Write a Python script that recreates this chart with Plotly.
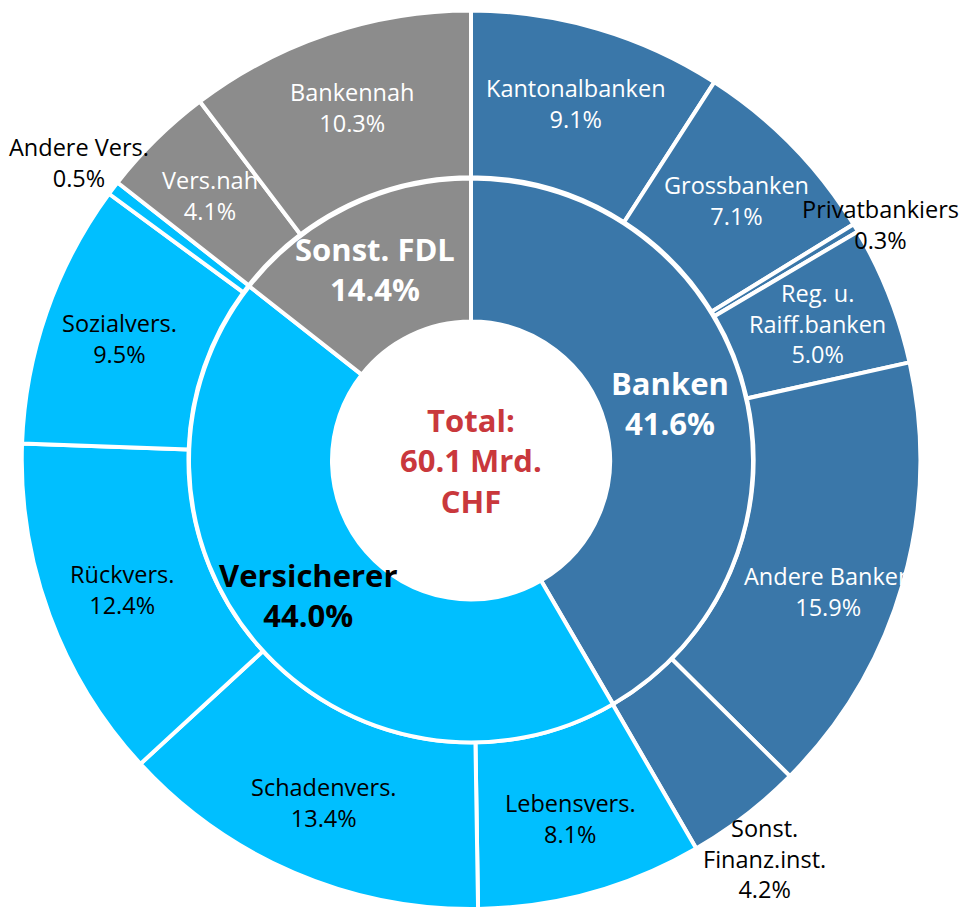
import math
import plotly.graph_objects as go

# ---------------- data ----------------
inner_labels = ["Banken", "Versicherer", "Sonst. FDL"]
inner_values = [41.6, 44.0, 14.4]

outer_labels = ["Kantonalbanken", "Grossbanken", "Privatbankiers", "Reg. u. Raiff.banken",
                "Andere Banken", "Sonst. Finanz.inst.",
                "Lebensvers.", "Schadenvers.", "Rückvers.", "Sozialvers.", "Andere Vers.",
                "Vers.nah", "Bankennah"]
outer_values = [9.1, 7.1, 0.3, 5.0, 15.9, 4.2,
                8.1, 13.4, 12.4, 9.5, 0.5,
                4.1, 10.3]
outer_parent = ["Banken"] * 6 + ["Versicherer"] * 5 + ["Sonst. FDL"] * 2

center_text = "Total:<br>60.1 Mrd.<br>CHF"

# ---------------- styling ----------------
W, H = 980, 909
CX, CY = 471.0, 460.5          # centre in pixels (from top-left)
R_OUT = 450.0
R_IN = 282.0
HOLE_IN_PX = 139.0
HOLE_OUT_PX = 283.0

colors = {"Banken": "#3A77A9", "Versicherer": "#00BFFF", "Sonst. FDL": "#8C8C8C"}
text_col = {"Banken": "white", "Versicherer": "black", "Sonst. FDL": "white"}
display = {"Reg. u. Raiff.banken": "Reg. u.<br>Raiff.banken",
           "Sonst. Finanz.inst.": "Sonst.<br>Finanz.inst."}
outside = {"Privatbankiers": 474, "Andere Vers.": 492, "Sonst. Finanz.inst.": 500}
label_nudge = {"Andere Banken": (0, 28), "Privatbankiers": (4, 9),
               "Sonst. Finanz.inst.": (-12, 2)}
FONT = "Open Sans"


def dom(r):
    return dict(x=[(CX - r) / W, (CX + r) / W],
                y=[max(0.0, 1 - (CY + r) / H), 1 - (CY - r) / H])


fig = go.Figure()
fig.add_trace(go.Pie(
    labels=outer_labels, values=outer_values, sort=False, direction="clockwise",
    rotation=0, hole=HOLE_OUT_PX / R_OUT, domain=dom(R_OUT),
    marker=dict(colors=[colors[p] for p in outer_parent], line=dict(color="white", width=4)),
    textinfo="none", hoverinfo="label+value", showlegend=False))
fig.add_trace(go.Pie(
    labels=inner_labels, values=inner_values, sort=False, direction="clockwise",
    rotation=0, hole=HOLE_IN_PX / R_IN, domain=dom(R_IN),
    marker=dict(colors=[colors[p] for p in inner_labels], line=dict(color="white", width=4)),
    textinfo="none", hoverinfo="label+value", showlegend=False))


def place(r, frac, nudge=(0, 0)):
    th = 2 * math.pi * frac
    xp = CX + r * math.sin(th) + nudge[0]
    yp = CY - r * math.cos(th) + nudge[1]
    return xp / W, 1 - yp / H


annotations = []
# outer labels
tot = sum(outer_values)
cum = 0.0
for lab, v, par in zip(outer_labels, outer_values, outer_parent):
    mid = (cum + v / 2) / tot
    cum += v
    r = outside.get(lab, 372)
    col = "black" if lab in outside else text_col[par]
    x, y = place(r, mid, label_nudge.get(lab, (0, 0)))
    annotations.append(dict(x=x, y=y, xref="paper", yref="paper", showarrow=False,
                            text=f"{display.get(lab, lab)}<br>{v:.1f}%",
                            font=dict(family=FONT, size=23.5, color=col),
                            xanchor="center", yanchor="middle"))
# inner labels
tot = sum(inner_values)
cum = 0.0
for lab, v in zip(inner_labels, inner_values):
    mid = (cum + v / 2) / tot
    cum += v
    x, y = place(210, mid, (-4, -3))
    annotations.append(dict(x=x, y=y, xref="paper", yref="paper", showarrow=False,
                            text=f"<b>{lab}<br>{v:.1f}%</b>",
                            font=dict(family=FONT, size=31, color=text_col[lab]),
                            xanchor="center", yanchor="middle"))
# centre
annotations.append(dict(x=CX / W, y=1 - CY / H, xref="paper", yref="paper", showarrow=False,
                        text=f"<b>{center_text}</b>",
                        font=dict(family=FONT, size=31, color="#C9383C"),
                        xanchor="center", yanchor="middle"))

fig.update_layout(width=W, height=H, margin=dict(l=0, r=0, t=0, b=0),
                  paper_bgcolor="white", plot_bgcolor="white",
                  annotations=annotations)
fig.write_html("out.html", config={"displayModeBar": False},
               post_script="document.body.style.margin='0';document.body.style.overflow='hidden';")
